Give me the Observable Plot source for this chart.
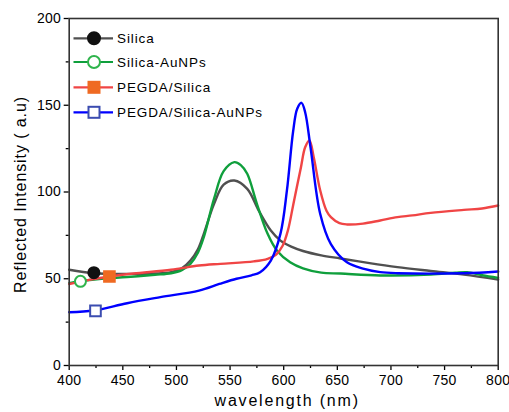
<!DOCTYPE html>
<html>
<head>
<meta charset="utf-8">
<script src="https://cdn.jsdelivr.net/npm/d3@7"></script>
<script src="https://cdn.jsdelivr.net/npm/@observablehq/plot@0.6"></script>
<style>
  html, body { margin: 0; padding: 0; background: #fff; }
  #chart svg text { letter-spacing: 0.3px; }
</style>
</head>
<body>
<div id="chart"></div>
<script>
// ---- Data ----
const seriesNames = ["Silica", "Silica-AuNPs", "PEGDA/Silica", "PEGDA/Silica-AuNPs"];

const silicaX = [400, 423, 454, 480, 495, 505, 513, 520, 525.5, 535, 544, 554, 566, 577, 588, 597, 607, 618, 635, 653, 680, 706, 737, 768, 800];
const silicaY = [55.2, 53.2, 52.8, 53, 53.8, 56, 60.5, 67, 75.9, 93, 104.2, 106.6, 101.8, 89, 77.8, 72, 68.5, 66, 63.5, 61.7, 59, 56.7, 54.5, 52.4, 49.5];

const auX = [400, 410, 430, 454, 480, 495, 505, 513, 520, 525.5, 535, 544, 554, 560, 566, 575, 585, 594, 606, 618, 635, 653, 690, 737, 760, 771, 785, 800];
const auY = [47.5, 48.6, 50, 51, 52.3, 53.2, 55, 58.6, 65, 74, 96, 112, 117.2, 115.5, 110.5, 93.2, 75.9, 66, 59.5, 56, 53.5, 53, 51.9, 52.4, 53.5, 53.8, 52, 50.5];

const pegX = [400, 420, 438, 460, 495, 521, 541, 572, 585, 593, 599, 604, 609, 616, 620, 624, 628, 634, 640, 644, 652, 659, 674, 690, 706, 720, 737, 768, 785, 800];
const pegY = [47, 49.5, 51.3, 53, 55.2, 57.6, 58.6, 60, 61.5, 64, 69, 78, 93, 114, 125.8, 129.7, 120, 101, 89, 85.5, 82, 81.3, 81.8, 83.6, 85.5, 86.5, 88, 89.7, 90.5, 92.2];

const pegAuX = [400, 423, 454, 485, 521, 540, 556, 570, 578, 588, 597, 603, 608.8, 612.6, 616.6, 620, 625, 634, 644, 659, 675, 690, 706, 768, 800];
const pegAuY = [30.7, 31.7, 35.9, 39.4, 43.2, 47, 50, 52, 53.8, 60.5, 76, 100.9, 135, 148, 151.4, 146, 125.8, 87.5, 70, 59.5, 55.7, 53.8, 53.2, 53.2, 54.2];

// one marker per series
const markerX = [423, 410.5, 437.5, 424.5];
const markerY = [53.5, 48.5, 51.3, 31.5];

const xTicks = [400, 450, 500, 550, 600, 650, 700, 750, 800];
const xMinor = [425, 475, 525, 575, 625, 675, 725, 775];
const yTicks = [0, 50, 100, 150, 200];
const yMinor = [25, 75, 125, 175];

const xTitle = "wavelength (nm)";
const yTitle = "Reflected Intensity ( a.u)";

// ---- Styles ----
const lineColors = ["#505050", "#0f9f3c", "#f04545", "#0000ff"];
const markerFill = ["#111111", "#ffffff", "#ef6a22", "#ffffff"];
const markerStroke = ["#111111", "#2fb44c", "#ef6a22", "#3b4cb0"];
const markerSymbol = ["circle", "circle", "square", "square"];

const xs = [silicaX, auX, pegX, pegAuX];
const ys = [silicaY, auY, pegY, pegAuY];
const rows = [];
xs.forEach((arr, i) => arr.forEach((x, j) => rows.push({s: seriesNames[i], x, y: ys[i][j]})));
const markers = seriesNames.map((s, i) => ({s, x: markerX[i], y: markerY[i], i}));

const lineMarks = seriesNames.map((s, i) =>
  Plot.line(rows.filter(d => d.s === s), {x: "x", y: "y", stroke: lineColors[i], strokeWidth: 2.4, curve: "catmull-rom"})
);
const dotMarks = markers.map(m =>
  Plot.dot([m], {x: "x", y: "y", symbol: () => markerSymbol[m.i], r: markerSymbol[m.i] === "circle" ? 5.5 : 6,
    fill: markerFill[m.i], stroke: markerStroke[m.i], strokeWidth: 2})
);

const chart = Plot.plot({
  width: 509, height: 412,
  marginLeft: 68.7, marginRight: 11.3, marginTop: 18, marginBottom: 47,
  x: {domain: [400, 800]},
  y: {domain: [0, 200]},
  style: {fontFamily: "'Liberation Sans', Arial, sans-serif", fontSize: "14px", color: "#000", background: "#fff"},
  marks: [
    Plot.axisX({ticks: xTicks, tickSize: 5, tickPadding: 5, label: null, strokeWidth: 1.3, fontSize: 14}),
    Plot.axisX({ticks: xMinor, tickSize: 3, tickFormat: () => "", label: null, strokeWidth: 1.3}),
    Plot.axisY({ticks: yTicks, tickSize: 5, tickPadding: 3, label: null, strokeWidth: 1.3, fontSize: 14}),
    Plot.axisY({ticks: yMinor, tickSize: 3, tickFormat: () => "", label: null, strokeWidth: 1.3}),
    ...lineMarks,
    ...dotMarks,
    Plot.frame({stroke: "#333", strokeWidth: 1.6})
  ]
});

document.getElementById("chart").appendChild(chart);

// ---- titles and legend ----
const svg = d3.select(chart);
svg.append("text")
  .attr("x", (68.7 + 497.7) / 2 + 4).attr("y", 406)
  .attr("text-anchor", "middle")
  .style("font-size", "16px").style("letter-spacing", "1.8px")
  .style("font-family", "'Liberation Sans', Arial, sans-serif")
  .attr("fill", "#000")
  .text(xTitle);
svg.append("text")
  .attr("transform", `translate(26, ${(18 + 365) / 2 + 3}) rotate(-90)`)
  .attr("text-anchor", "middle")
  .style("font-size", "16px").style("letter-spacing", "0.9px")
  .style("font-family", "'Liberation Sans', Arial, sans-serif")
  .attr("fill", "#000")
  .text(yTitle);

const legendY = [38.3, 62, 87.3, 112.3];
seriesNames.forEach((s, i) => {
  const g = svg.append("g");
  g.append("line").attr("x1", 73.5).attr("x2", 113).attr("y1", legendY[i]).attr("y2", legendY[i])
    .attr("stroke", lineColors[i]).attr("stroke-width", 2.2);
  if (markerSymbol[i] === "circle") {
    g.append("circle").attr("cx", 94).attr("cy", legendY[i]).attr("r", 6)
      .attr("fill", markerFill[i]).attr("stroke", markerStroke[i]).attr("stroke-width", 2);
  } else {
    g.append("rect").attr("x", 94 - 5.5).attr("y", legendY[i] - 5.5).attr("width", 11).attr("height", 11)
      .attr("fill", markerFill[i]).attr("stroke", markerStroke[i]).attr("stroke-width", 2);
  }
  g.append("text").attr("x", 117).attr("y", legendY[i] + 4.8)
    .attr("text-anchor", "start")
    .style("font-size", "13.5px").style("letter-spacing", "0.9px")
    .style("font-family", "'Liberation Sans', Arial, sans-serif")
    .attr("fill", "#000")
    .text(s);
});
</script>
</body>
</html>
